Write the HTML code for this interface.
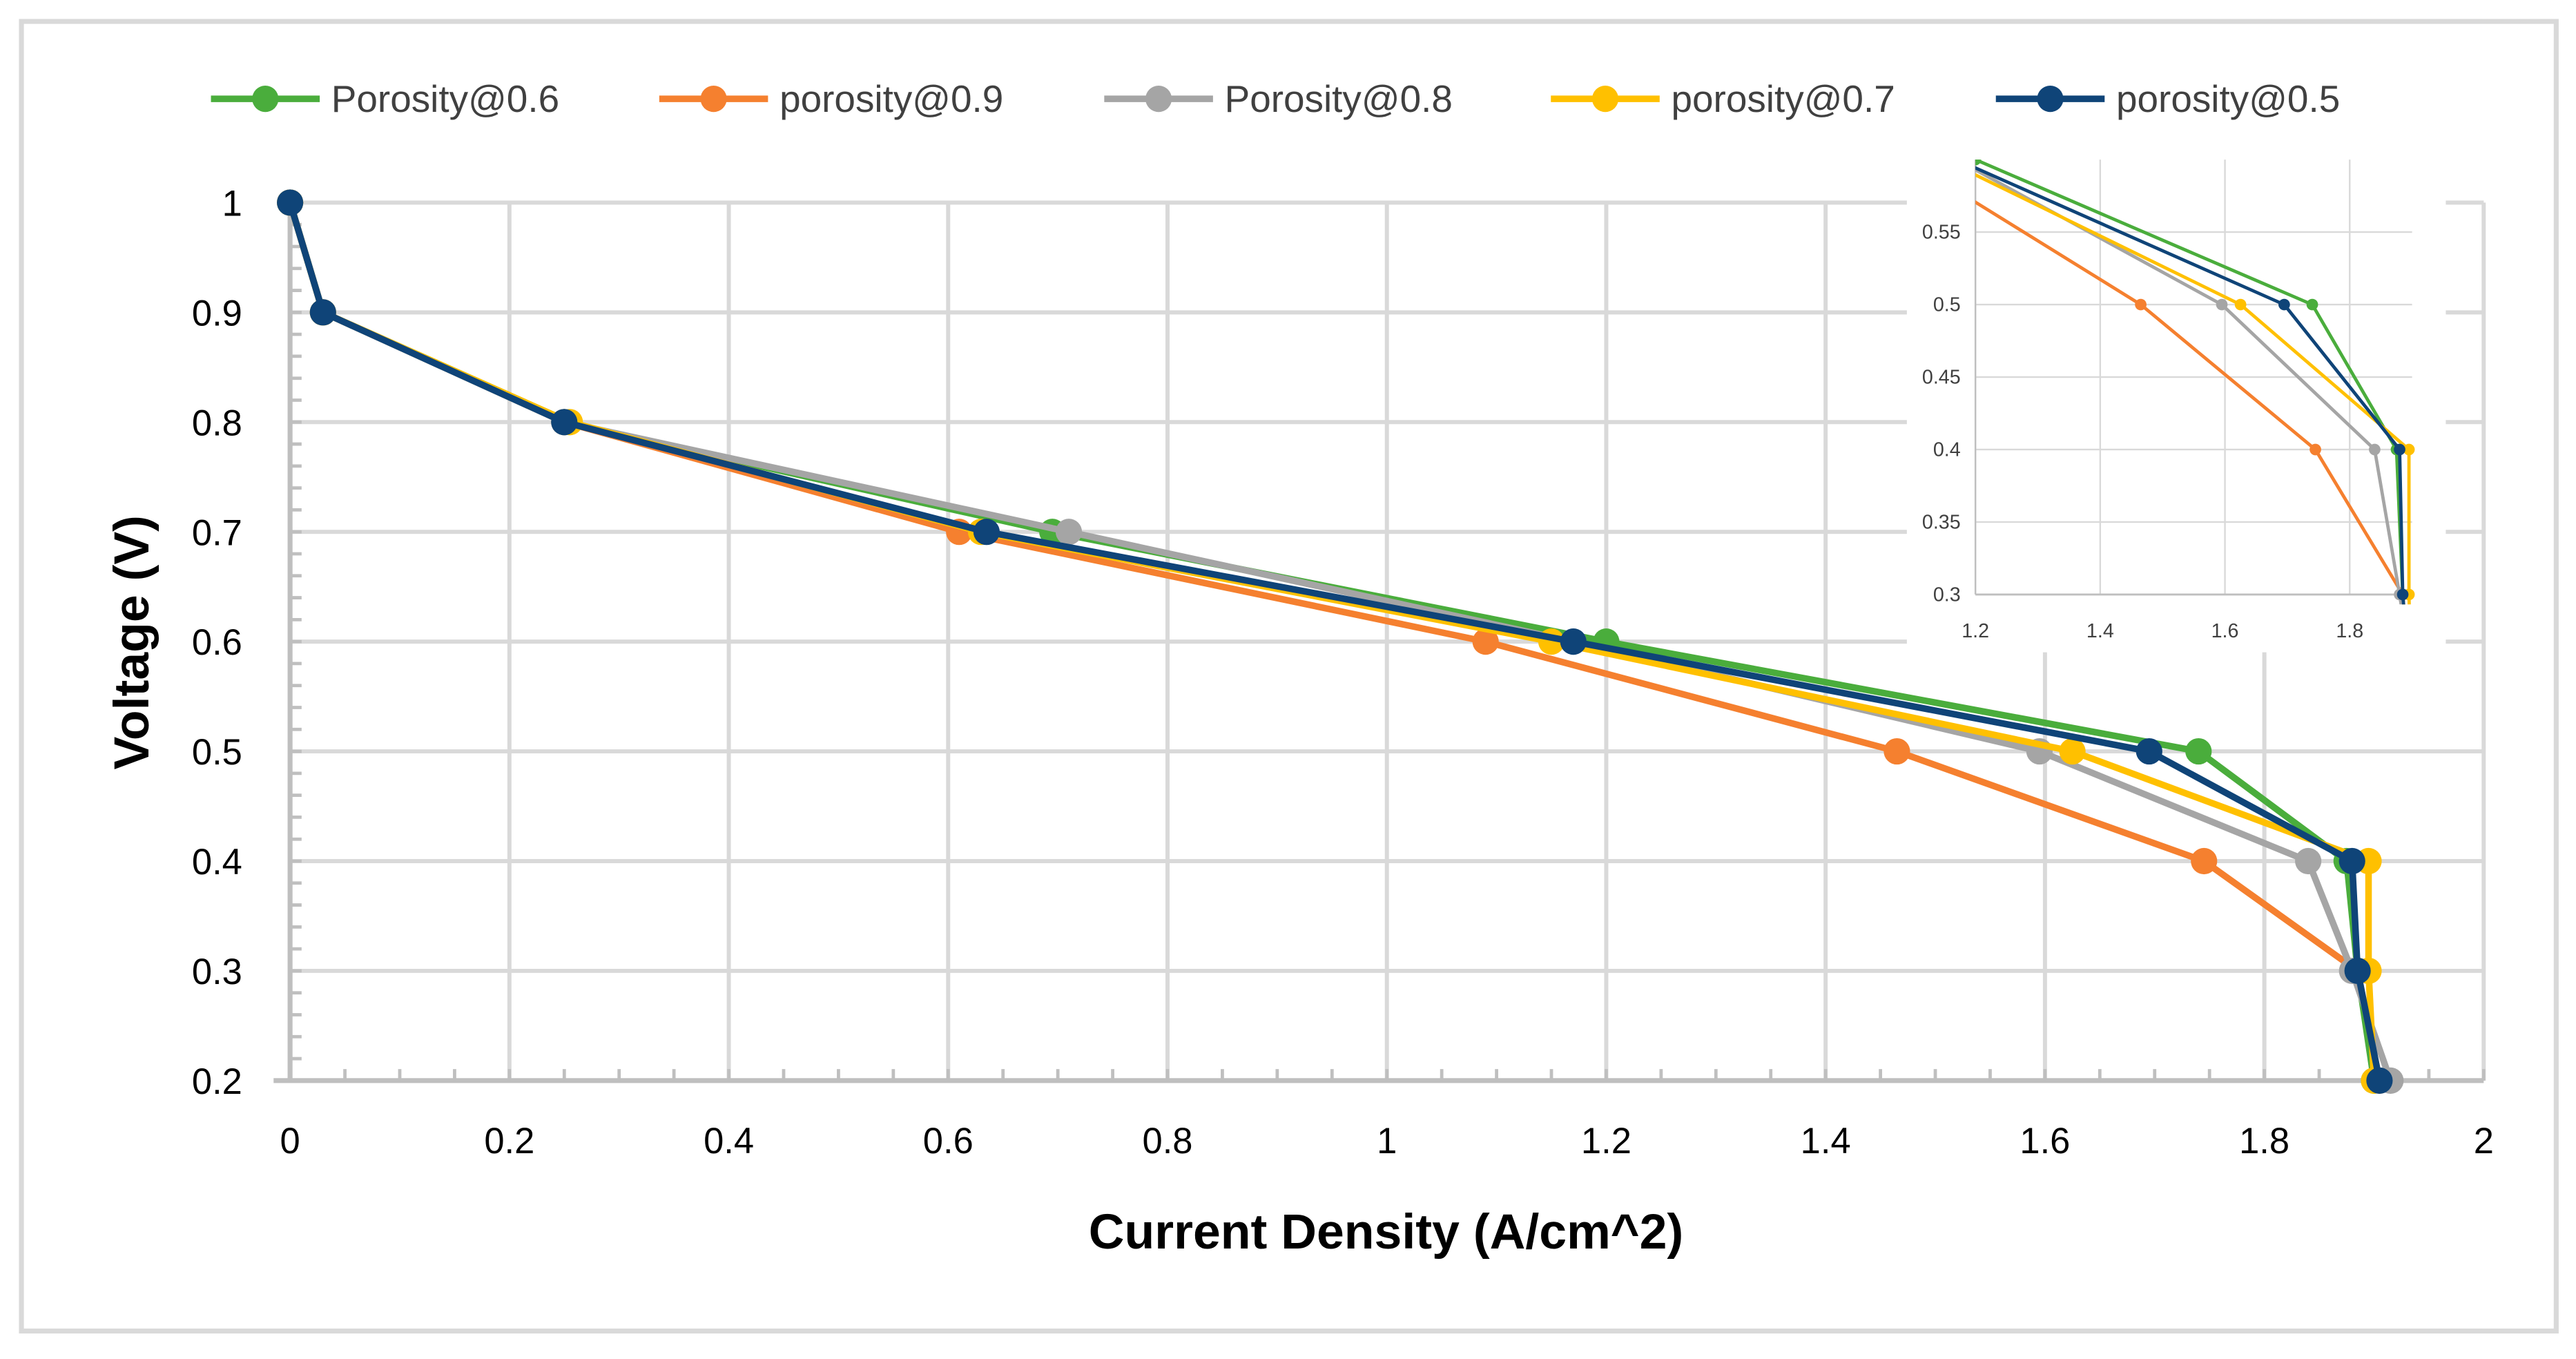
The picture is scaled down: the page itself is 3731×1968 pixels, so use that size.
<!DOCTYPE html>
<html><head><meta charset="utf-8">
<style>html,body{margin:0;padding:0;background:#fff;}svg{display:block;}</style></head>
<body>
<svg id="chart" width="3731" height="1968" viewBox="0 0 1563 825" preserveAspectRatio="none" xmlns="http://www.w3.org/2000/svg" font-family="'Liberation Sans', sans-serif">
<rect x="0" y="0" width="1563" height="825" fill="#fff"/>
<rect x="13" y="13" width="1538" height="795" fill="none" stroke="#d9d9d9" stroke-width="3"/>
<g id="main"></g>
<g id="inset"></g>
<g id="legend"></g>
<text x="841" y="758" text-anchor="middle" font-size="30" font-weight="bold" fill="#000">Current Density (A/cm^2)</text>
<text transform="translate(90,390) rotate(-90)" text-anchor="middle" font-size="30" font-weight="bold" fill="#000">Voltage (V)</text>
</svg>
<script>
const seriesNames = ["Porosity@0.6","porosity@0.9","Porosity@0.8","porosity@0.7","porosity@0.5"];
const seriesColors = ["#4aad3c","#f5802f","#a5a5a5","#ffc000","#0f4478"];
const voltages = [1,0.9,0.8,0.7,0.6,0.5,0.4,0.3,0.2];
const currentP06 = [0,0.03,0.25,0.695,1.2,1.74,1.875,1.885,1.9];
const currentP09 = [0,0.03,0.25,0.61,1.09,1.465,1.745,1.885,1.905];
const currentP08 = [0,0.03,0.25,0.71,1.17,1.595,1.84,1.88,1.915];
const currentP07 = [0,0.03,0.255,0.63,1.15,1.625,1.895,1.895,1.9];
const currentP05 = [0,0.03,0.25,0.635,1.17,1.695,1.88,1.885,1.905];
const xTicks = [0,0.2,0.4,0.6,0.8,1,1.2,1.4,1.6,1.8,2];
const yTicks = [0.2,0.3,0.4,0.5,0.6,0.7,0.8,0.9,1];
const insetXTicks = [1.2,1.4,1.6,1.8];
const insetYTicks = [0.3,0.35,0.4,0.45,0.5,0.55];

const NS="http://www.w3.org/2000/svg";
function mk(parent,tag,attrs){const e=document.createElementNS(NS,tag);for(const k in attrs)e.setAttribute(k,attrs[k]);parent.appendChild(e);return e;}
const allSeries=[currentP06,currentP09,currentP08,currentP07,currentP05];

// main axes
const X=v=>176+(v-0)/(2-0)*(1507-176);
const Y=v=>656-(v-0.2)/(1-0.2)*(656-123);
const main=document.getElementById('main');
xTicks.forEach(t=>{ if(t>0){const l=mk(main,'line',{x1:X(t),x2:X(t),y1:123,y2:656,stroke:'#d9d9d9','stroke-width':2.5});

}
const tx=mk(main,'text',{x:X(t),y:700,'text-anchor':'middle','font-size':22,fill:'#000'});tx.textContent=String(t);

});
yTicks.forEach(t=>{ if(t>0.2){const l=mk(main,'line',{x1:176,x2:1507,y1:Y(t),y2:Y(t),stroke:'#d9d9d9','stroke-width':2.5});

}
const tx=mk(main,'text',{x:147,y:Y(t)+8,'text-anchor':'end','font-size':22,fill:'#000'});tx.textContent=String(t);

});
// minor ticks
for(let i=0;i<=40;i++){const v=i*0.05;mk(main,'line',{x1:X(v),x2:X(v),y1:656,y2:649,stroke:'#bfbfbf','stroke-width':2});}
for(let i=0;i<=40;i++){const v=0.2+i*0.02;mk(main,'line',{x1:176,x2:183,y1:Y(v),y2:Y(v),stroke:'#bfbfbf','stroke-width':2});}
const xa=mk(main,'line',{x1:166,x2:1507,y1:656,y2:656,stroke:'#bfbfbf','stroke-width':3});


const ya=mk(main,'line',{x1:176,x2:176,y1:123,y2:656,stroke:'#bfbfbf','stroke-width':3});


allSeries.forEach((s,i)=>{
 const pts=s.map((c,j)=>X(c)+','+Y(voltages[j])).join(' ');
 const pl=mk(main,'polyline',{points:pts,fill:'none',stroke:seriesColors[i],'stroke-width':4,'stroke-linejoin':'round'});
 
 
 s.forEach((c,j)=>{const m=mk(main,'circle',{cx:X(c),cy:Y(voltages[j]),r:8,fill:seriesColors[i]});
 
 });
});

// inset
const inset=document.getElementById('inset');
const bg=mk(inset,'rect',{x:1157,y:88,width:327,height:308,fill:'#fff'});


const IX=v=>1198.6+(v-1.2)/0.2*75.7;
const IY=v=>360.9-(v-0.3)/0.05*44;
mk(inset,'defs',{}).innerHTML='<clipPath id="ic"><rect x="'+IX(1.2)+'" y="'+IY(0.6)+'" width="'+(IX(1.92)-IX(1.2)+6)+'" height="'+(IY(0.3)-IY(0.6)+6)+'"/></clipPath>';
insetXTicks.forEach(t=>{const l=mk(inset,'line',{x1:IX(t),x2:IX(t),y1:IY(0.6),y2:IY(0.3),stroke:'#d9d9d9','stroke-width':1});


const tx=mk(inset,'text',{x:IX(t),y:IY(0.3)+26,'text-anchor':'middle','font-size':12,fill:'#404040'});tx.textContent=String(t);

});
insetYTicks.forEach(t=>{const l=mk(inset,'line',{x1:IX(1.2),x2:IX(1.9),y1:IY(t),y2:IY(t),stroke:'#d9d9d9','stroke-width':1});


const tx=mk(inset,'text',{x:IX(1.2)-9,y:IY(t)+4,'text-anchor':'end','font-size':12,fill:'#404040'});tx.textContent=String(t);

});
mk(inset,'line',{x1:IX(1.2),x2:IX(1.2),y1:IY(0.6),y2:IY(0.3),stroke:'#bfbfbf','stroke-width':1});
mk(inset,'line',{x1:IX(1.2),x2:IX(1.9),y1:IY(0.3),y2:IY(0.3),stroke:'#bfbfbf','stroke-width':1.2});
const ig=mk(inset,'g',{'clip-path':'url(#ic)'});
allSeries.forEach((s,i)=>{
 const pts=s.map((c,j)=>IX(c)+','+IY(voltages[j])).join(' ');
 const pl=mk(ig,'polyline',{points:pts,fill:'none',stroke:seriesColors[i],'stroke-width':2});
 
 
 s.forEach((c,j)=>{const m=mk(ig,'circle',{cx:IX(c),cy:IY(voltages[j]),r:3.5,fill:seriesColors[i]});
 
 });
});

// legend
const legend=document.getElementById('legend');
const legX=[128,400,670,941,1211];
seriesNames.forEach((n,i)=>{
 const g=mk(legend,'g',{});
 
 
 mk(g,'line',{x1:legX[i],x2:legX[i]+66,y1:60,y2:60,stroke:seriesColors[i],'stroke-width':4});
 mk(g,'circle',{cx:legX[i]+33,cy:60,r:8,fill:seriesColors[i]});
 const t=mk(g,'text',{x:legX[i]+73,y:68,'font-size':23,fill:'#404040'});t.textContent=n;
});
</script>
</body></html>
